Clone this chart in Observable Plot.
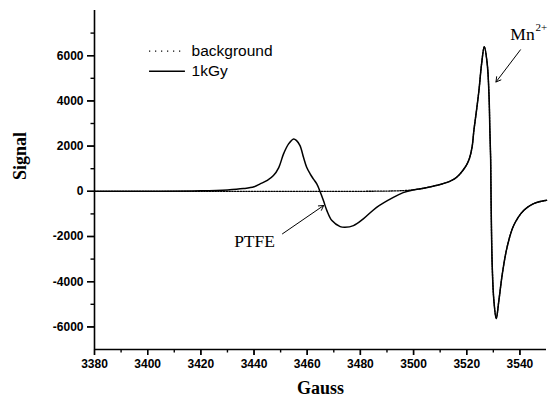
<!DOCTYPE html>
<html>
<head>
<meta charset="utf-8">
<script src="https://cdn.jsdelivr.net/npm/d3@7"></script>
<script src="https://cdn.jsdelivr.net/npm/@observablehq/plot@0.6"></script>
<style>
  html, body { margin: 0; padding: 0; background: #fff; }
</style>
</head>
<body>
<div id="chart"></div>
<script>
// ---- Data ----
const seriesNames = ["background", "1kGy"];

// 1kGy (solid): PTFE signal + Mn2+ signal
const gauss1kGy = [3380, 3400, 3420, 3430, 3436, 3440, 3442.3, 3445, 3447.3, 3449.3, 3451.1, 3453, 3454.9, 3456,
  3457.3, 3458.6, 3459.8, 3461.1, 3462.3, 3463.6, 3464.8, 3466.1, 3467.4, 3469.3, 3472.4, 3474.2, 3477.4,
  3481.1, 3486.1, 3492.4, 3496.1, 3499, 3502, 3506, 3510, 3513.4, 3515.5, 3517.1, 3519, 3520, 3521, 3522,
  3522.7, 3523.7, 3524.6, 3525.6, 3526.6, 3527.7, 3528.4, 3528.7, 3529, 3529.2, 3529.6, 3530.2, 3531.1,
  3532.1, 3533.4, 3535.2, 3537.7, 3541.5, 3545.2, 3550];
const signal1kGy = [0, 0, 20, 60, 120, 200, 327, 480, 695, 1050, 1655, 2097, 2319, 2243,
  2022, 1504, 1062, 770, 549, 327, 0, -411, -854, -1296, -1562, -1593, -1518,
  -1221, -708, -265, -60, 40, 100, 190, 300, 430, 560, 720, 1000, 1180, 1450, 1950,
  2700, 3600, 4470, 5650, 6400, 5650, 4170, 2700, 1400, -800, -3350, -4820, -5630,
  -4820, -3640, -2460, -1500, -840, -545, -400];

// background (dotted): Mn2+ signal only
const gaussBackground = [3380, 3400, 3420, 3440, 3460, 3480, 3490, 3496.1, 3499, 3502, 3506, 3510, 3513.4, 3515.5,
  3517.1, 3519, 3520, 3521, 3522, 3522.7, 3523.7, 3524.6, 3525.6, 3526.6, 3527.7, 3528.4, 3528.7, 3529, 3529.2,
  3529.6, 3530.2, 3531.1, 3532.1, 3533.4, 3535.2, 3537.7, 3541.5, 3545.2, 3550];
const signalBackground = [0, 0, 0, 0, 0, 0, 10, 30, 55, 100, 190, 300, 430, 560,
  720, 1000, 1180, 1450, 1950, 2700, 3600, 4470, 5650, 6400, 5650, 4170, 2700, 1400, -800,
  -3350, -4820, -5630, -4820, -3640, -2460, -1500, -840, -545, -400];

const xMajorTicks = [3380, 3400, 3420, 3440, 3460, 3480, 3500, 3520, 3540];
const xMinorTicks = [3390, 3410, 3430, 3450, 3470, 3490, 3510, 3530];
const yMajorTicks = [-6000, -4000, -2000, 0, 2000, 4000, 6000];
const yMinorTicks = [-5000, -3000, -1000, 1000, 3000, 5000, 7000];

const xLabel = "Gauss";
const yLabel = "Signal";
const annotationLabels = ["PTFE", "Mn", "2+"];

// ---- Layout ----
const W = 553, H = 404, mL = 94, mR = 7, mT = 10, mB = 55;
const xDomain = [3380, 3550], yDomain = [-7000, 8000];
const pxPerX = (W - mL - mR) / (xDomain[1] - xDomain[0]);
const pxPerY = (H - mT - mB) / (yDomain[1] - yDomain[0]);

// ---- Tables built from the arrays ----
const rows1 = gauss1kGy.map((g, i) => ({gauss: g, signal: signal1kGy[i]}));
const rowsBg = gaussBackground.map((g, i) => ({gauss: g, signal: signalBackground[i]}));

// placement of legend / annotations (data units)
const legendDotted = [{x1: 3400.7, x2: 3414.2, y: 6199}];
const legendSolid = [{x1: 3400.7, x2: 3414.2, y: 5314}];
const legendText = [
  {x: 3416.5, y: 6199, name: seriesNames[0]},
  {x: 3416.5, y: 5301, name: seriesNames[1]}
];
const arrows = [
  {x1: 3540.2, y1: 6261, x2: 3531.0, y2: 4836},
  {x1: 3450.7, y1: -1881, x2: 3466.2, y2: -628}
];
const ptfeText = [{x: 3440.2, y: -2221, t: annotationLabels[0]}];
const mnText = [{x: 3536.4, y: 6938, t: annotationLabels[1]}];
const supText = [{x: 3545.9, y: 7248, t: annotationLabels[2]}];

const tickFmt = d => String(d);
const serif = "'Times New Roman', 'Liberation Serif', serif";
const sans = "Arial, 'Liberation Sans', sans-serif";

// outward tick marks (length in px converted through the scales)
const xTick = (len) => ({y1: yDomain[0], y2: yDomain[0] - len / pxPerY, stroke: "#000", strokeWidth: 1.4});
const yTick = (len) => ({x1: xDomain[0] - len / pxPerX, x2: xDomain[0], stroke: "#000", strokeWidth: 1.4});

const chart = Plot.plot({
  width: W,
  height: H,
  marginLeft: mL,
  marginRight: mR,
  marginTop: mT,
  marginBottom: mB,
  style: {background: "#fff", fontFamily: sans, color: "#000"},
  x: {domain: xDomain},
  y: {domain: yDomain},
  marks: [
    Plot.axisX(xMajorTicks, {tickSize: 6, tickPadding: 4, label: null, tickFormat: tickFmt,
      fontWeight: "bold", fontSize: 12, stroke: "#000", strokeWidth: 1.4, fill: "#000"}),
    Plot.axisY(yMajorTicks, {tickSize: 7, tickPadding: 4, label: null, tickFormat: tickFmt,
      fontWeight: "bold", fontSize: 12, stroke: "#000", strokeWidth: 1.4, fill: "#000"}),
    Plot.ruleX(xMajorTicks, xTick(6)),
    Plot.ruleX(xMinorTicks, xTick(3.5)),
    Plot.ruleY(yMajorTicks, yTick(7)),
    Plot.ruleY(yMinorTicks, yTick(3.5)),
    Plot.ruleX([xDomain[0]], {stroke: "#000", strokeWidth: 1.6}),
    Plot.ruleY([yDomain[0]], {stroke: "#000", strokeWidth: 1.6}),
    Plot.line(rowsBg, {x: "gauss", y: "signal", stroke: "#000", strokeWidth: 1.3,
      strokeDasharray: "1.5,1.3", curve: "catmull-rom"}),
    Plot.line(rows1, {x: "gauss", y: "signal", stroke: "#000", strokeWidth: 1.5, curve: "catmull-rom"}),
    // legend
    Plot.ruleY(legendDotted, {x1: "x1", x2: "x2", y: "y", stroke: "#000",
      strokeWidth: 1.2, strokeDasharray: "1.2,4.8"}),
    Plot.ruleY(legendSolid, {x1: "x1", x2: "x2", y: "y", stroke: "#000", strokeWidth: 1.5}),
    Plot.text(legendText, {x: "x", y: "y", text: "name", textAnchor: "start", fontSize: 15.5,
      fill: "#000", fontFamily: sans}),
    // annotations
    Plot.arrow(arrows, {x1: "x1", y1: "y1", x2: "x2", y2: "y2", stroke: "#000", strokeWidth: 1,
      headLength: 8}),
    Plot.text(ptfeText, {x: "x", y: "y", text: "t", textAnchor: "middle", fontSize: 17.5, fill: "#000",
      fontFamily: serif}),
    Plot.text(mnText, {x: "x", y: "y", text: "t", textAnchor: "start", fontSize: 17.5, fill: "#000",
      fontFamily: serif}),
    Plot.text(supText, {x: "x", y: "y", text: "t", textAnchor: "start", fontSize: 11, fill: "#000",
      fontFamily: serif}),
    // axis titles
    Plot.text([xLabel], {frameAnchor: "bottom", dy: 44, fontSize: 18, fontWeight: "bold", fill: "#000",
      fontFamily: serif}),
    Plot.text([yLabel], {frameAnchor: "left", dx: -74, rotate: -90, fontSize: 18, fontWeight: "bold", fill: "#000",
      fontFamily: serif})
  ]
});
document.getElementById("chart").appendChild(chart);
</script>
</body>
</html>
